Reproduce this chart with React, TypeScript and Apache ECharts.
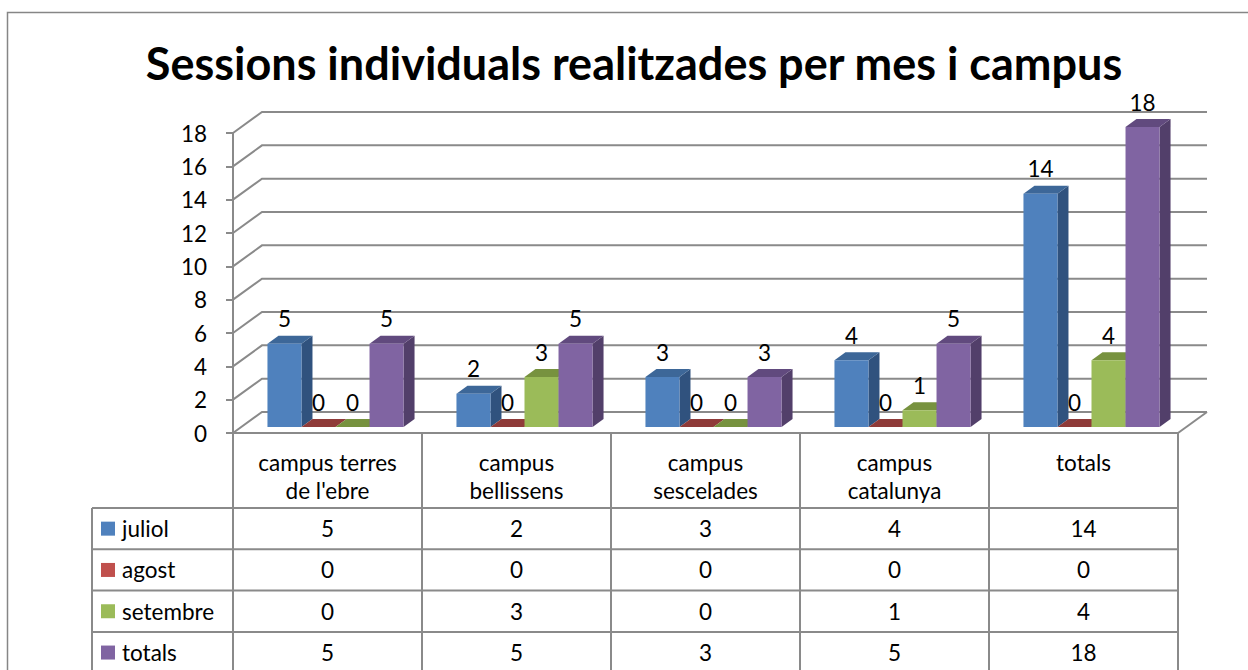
import React, { useEffect, useRef } from "react";
import * as echarts from "echarts";

// ---------- data ----------
const chartTitle = "Sessions individuals realitzades per mes i campus";
const categories = [
  "campus terres de l'ebre",
  "campus bellissens",
  "campus sescelades",
  "campus catalunya",
  "totals",
];
const seriesNames = ["juliol", "agost", "setembre", "totals"];
const juliol = [5, 2, 3, 4, 14];
const agost = [0, 0, 0, 0, 0];
const setembre = [0, 3, 0, 1, 4];
const totals = [5, 5, 3, 5, 18];
const seriesValues = [juliol, agost, setembre, totals];
const yTicks = [0, 2, 4, 6, 8, 10, 12, 14, 16, 18];
const yMin = 0;
const yMax = 18;
const yInterval = 2;

// ---------- styles ----------
const FONT = "Lato, 'Open Sans', sans-serif";
const FS = 22.5;
const GRID_COLOR = "#8a8a8a";
const frontColors = ["#4F81BD", "#C0504D", "#9BBB59", "#8064A2"];
const topColors = ["#3D6798", "#8F3B39", "#77923F", "#614A7E"];
const sideColors = ["#30527E", "#7E3432", "#657C35", "#523F6A"];

const GRID_LEFT = 233;
const GRID_RIGHT_EDGE = 1178;
const GRID_TOP = 133;
const GRID_BOTTOM_EDGE = 433;
const W = 1248;
const H = 670;
const DX = 29; // floor depth
const DY = -21;
const HEADER_BOTTOM = 508;
const ROW_H = 41.3;
const LEGEND_LEFT = 92;
const TABLE_BOTTOM = 690;

function wrapLabel(s: string) {
  const words = s.split(" ");
  if (words.length < 2) return s;
  const k = Math.ceil(words.length / 2);
  return words.slice(0, k).join(" ") + "\n" + words.slice(k).join(" ");
}

export default function App() {
  const ref = useRef<HTMLDivElement>(null);
  useEffect(() => {
    if (!ref.current) return;
    const chart = echarts.init(ref.current, null, { renderer: "svg" });

    const lineStyle = { stroke: GRID_COLOR, lineWidth: 2, fill: "none" };

    const gridSeries = {
      type: "custom",
      z: 1,
      silent: true,
      encode: { x: 0, y: 1 },
      data: yTicks.map((v) => [0, v]),
      renderItem: (params: any, api: any) => {
        const cs = params.coordSys;
        const v = api.value(1);
        const y = api.coord([0, v])[1];
        const x0 = cs.x;
        const x1 = cs.x + cs.width;
        const children: any[] = [
          {
            type: "polyline",
            shape: { points: [[x0, y], [x0 + DX, y + DY], [x1 + DX, y + DY]] },
            style: lineStyle,
          },
        ];
        if (v === 0) {
          children.push({
            type: "line",
            shape: { x1: x1, y1: y, x2: x1 + DX, y2: y + DY },
            style: lineStyle,
          });
        }
        return { type: "group", children };
      },
    };

    const barSeries = seriesValues.map((vals, si) => ({
      type: "custom",
      name: seriesNames[si],
      z: 3 + si,
      encode: { x: 0, y: 1 },
      data: vals.map((v, i) => [i, v]),
      renderItem: (params: any, api: any) => {
        const ci = api.value(0);
        const val = api.value(1);
        const base = api.coord([ci, 0]);
        const top = api.coord([ci, val]);
        const bw = api.size([1, 0])[0];
        const w = bw * 0.18;
        const fx = 8;
        const fy = -6;
        const dx = 11;
        const dy = -8;
        const x0 = base[0] - bw * 0.36 + fx + si * w;
        const x1 = x0 + w;
        const yb = base[1] + fy;
        const yt = top[1] + fy;
        return {
          type: "group",
          children: [
            {
              type: "polygon",
              shape: { points: [[x1, yt], [x1 + dx, yt + dy], [x1 + dx, yb + dy], [x1, yb]] },
              style: { fill: sideColors[si] },
            },
            {
              type: "polygon",
              shape: { points: [[x0, yt], [x0 + dx, yt + dy], [x1 + dx, yt + dy], [x1, yt]] },
              style: { fill: topColors[si] },
            },
            {
              type: "rect",
              shape: { x: x0, y: yt, width: w, height: yb - yt },
              style: { fill: frontColors[si] },
            },
            {
              type: "text",
              z2: 10,
              style: {
                text: String(val),
                x: (x0 + x1) / 2,
                y: yt - 25,
                align: "center",
                verticalAlign: "middle",
                fontSize: FS,
                fontFamily: FONT,
                fill: "#000",
              },
            },
          ],
        };
      },
    }));

    const tableSeries = {
      type: "custom",
      z: 2,
      silent: true,
      encode: { x: 0, y: 1 },
      data: categories.map((_, i) => [i, juliol[i], agost[i], setembre[i], totals[i]]),
      renderItem: (params: any, api: any) => {
        const ci = api.value(0);
        const p0 = api.coord([ci, 0]);
        const cx = p0[0];
        const yTop = p0[1];
        const bw = api.size([1, 0])[0];
        const l = cx - bw / 2;
        const r = cx + bw / 2;
        const children: any[] = [];
        const rows = [yTop, HEADER_BOTTOM, HEADER_BOTTOM + ROW_H, HEADER_BOTTOM + 2 * ROW_H, HEADER_BOTTOM + 3 * ROW_H, HEADER_BOTTOM + 4 * ROW_H];
        rows.forEach((y) =>
          children.push({ type: "line", shape: { x1: l, y1: y, x2: r, y2: y }, style: lineStyle })
        );
        children.push({ type: "line", shape: { x1: r, y1: yTop, x2: r, y2: TABLE_BOTTOM }, style: lineStyle });
        if (ci === 0) {
          children.push({ type: "line", shape: { x1: l, y1: yTop, x2: l, y2: TABLE_BOTTOM }, style: lineStyle });
        }
        for (let k = 0; k < 4; k++) {
          children.push({
            type: "text",
            style: {
              text: String(api.value(k + 1)),
              x: cx,
              y: HEADER_BOTTOM + ROW_H * (k + 0.5),
              align: "center",
              verticalAlign: "middle",
              fontSize: FS,
              fontFamily: FONT,
              fill: "#000",
            },
          });
        }
        return { type: "group", children };
      },
    };

    const legendGraphics: any[] = [];
    legendGraphics.push({
      type: "line",
      shape: { x1: LEGEND_LEFT, y1: HEADER_BOTTOM, x2: LEGEND_LEFT, y2: TABLE_BOTTOM },
      style: lineStyle,
    });
    for (let k = 0; k < 5; k++) {
      const y = HEADER_BOTTOM + k * ROW_H;
      legendGraphics.push({
        type: "line",
        shape: { x1: LEGEND_LEFT, y1: y, x2: GRID_LEFT, y2: y },
        style: lineStyle,
      });
    }
    seriesNames.forEach((name, k) => {
      const cy = HEADER_BOTTOM + ROW_H * (k + 0.5);
      legendGraphics.push({
        type: "rect",
        shape: { x: 101, y: cy - 7, width: 14, height: 14 },
        style: { fill: frontColors[k] },
      });
      legendGraphics.push({
        type: "text",
        style: {
          text: name,
          x: 122,
          y: cy,
          align: "left",
          verticalAlign: "middle",
          fontSize: FS,
          fontFamily: FONT,
          fill: "#000",
        },
      });
    });

    chart.setOption({
      animation: false,
      backgroundColor: "#fff",
      grid: {
        left: GRID_LEFT,
        right: W - GRID_RIGHT_EDGE,
        top: GRID_TOP,
        bottom: H - GRID_BOTTOM_EDGE,
        containLabel: false,
      },
      xAxis: {
        type: "category",
        data: categories,
        axisLine: { show: false },
        axisTick: { show: false },
        splitLine: { show: false },
        axisLabel: {
          interval: 0,
          formatter: (s: string) => wrapLabel(s),
          fontSize: FS,
          lineHeight: 28,
          margin: 15,
          color: "#000",
          fontFamily: FONT,
        },
      },
      yAxis: {
        type: "value",
        min: yMin,
        max: yMax,
        interval: yInterval,
        axisLine: { show: true, lineStyle: { color: GRID_COLOR, width: 2 } },
        axisTick: { show: true, length: 7, lineStyle: { color: GRID_COLOR, width: 2 } },
        splitLine: { show: false },
        axisLabel: {
          fontSize: FS,
          color: "#000",
          fontFamily: FONT,
          margin: 26,
          padding: [4, 0, 0, 0],
        },
      },
      graphic: [
        {
          type: "polyline",
          shape: { points: [[7.5, H], [7.5, 12.5], [W, 12.5]] },
          style: { stroke: "#868686", lineWidth: 1.5, fill: "none" },
          silent: true,
        },
        {
          type: "text",
          style: {
            text: chartTitle,
            x: 634,
            y: 63,
            align: "center",
            verticalAlign: "middle",
            fontSize: 45,
            fontWeight: "bold",
            fontFamily: FONT,
            fill: "#000",
          },
        },
        ...legendGraphics,
      ],
      series: [gridSeries, tableSeries, ...barSeries],
    });

    return () => chart.dispose();
  }, []);

  return (
    <div
      ref={ref}
      style={{ position: "absolute", left: 0, top: 0, width: W, height: H, background: "#fff" }}
    />
  );
}
